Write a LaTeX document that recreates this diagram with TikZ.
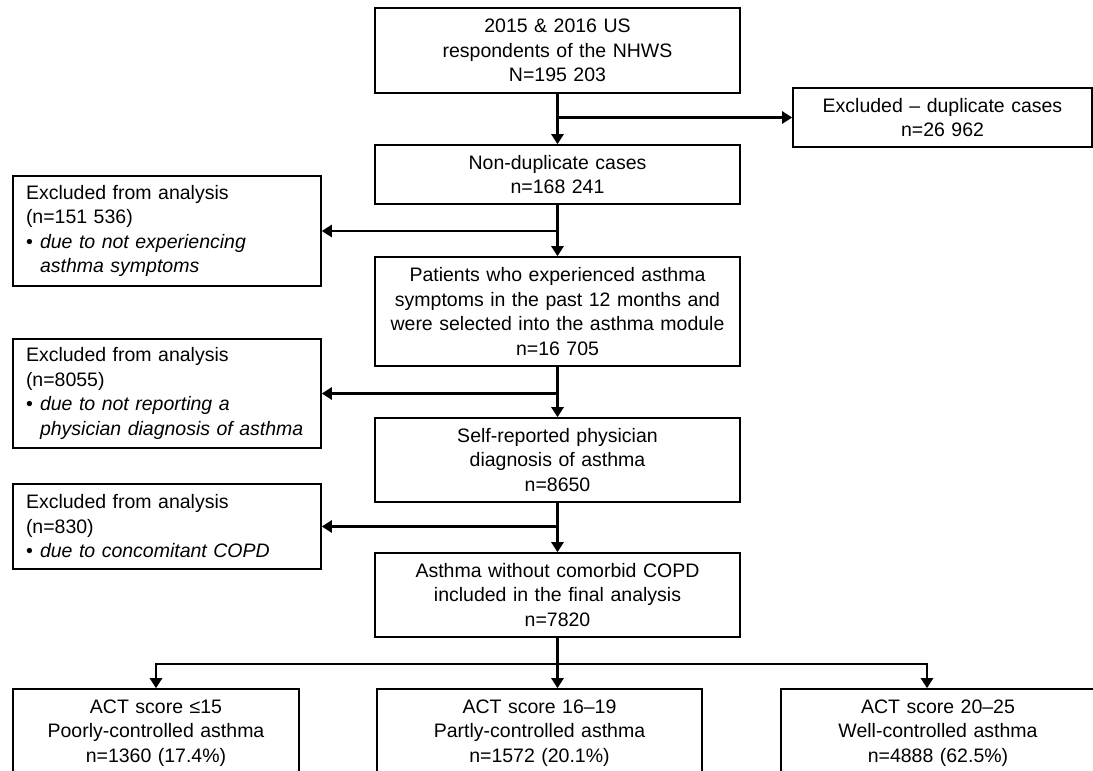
\documentclass[tikz,border=0pt]{standalone}
\usepackage{fontspec}
\setmainfont{Liberation Sans}
\usetikzlibrary{arrows.meta,positioning}

\begin{document}
\begin{tikzpicture}[x=1pt,y=-1pt,>={Triangle[length=10pt,width=12pt]},
                    box/.style={draw,line width=1.6pt,align=center,inner sep=0pt,
                                font=\fontsize{19.5}{24.5}\selectfont},
                    main/.style={box,text width=365pt},
                    excl/.style={box,align=left,inner xsep=13pt,text width=282pt},
                    flow/.style={->,line width=2.8pt}]

 \useasboundingbox (0,0) rectangle (1093,771);
 \clip (0,0) rectangle (1093,771);

 		 \node[main,minimum height=85pt]  (resp)   at (557.5,50.5)  {2015 \& 2016 US\\respondents of the NHWS\\N=195 203};
 		 \node[box,text width=299pt,minimum height=59pt] (dup) at (942.5,117.5) {Excluded -- duplicate cases\\n=26 962};
 		 \node[main,minimum height=59pt]  (nondup) at (557.5,174.5) {Non-duplicate cases\\n=168 241};
 		 \node[main,minimum height=109pt] (symp)   at (557.5,311.5) {Patients who experienced asthma\\symptoms in the past 12 months and\\were selected into the asthma module\\n=16 705};
 		 \node[main,minimum height=84pt]  (diag)   at (557.5,460)   {Self-reported physician\\diagnosis of asthma\\n=8650};
 		 \node[main,minimum height=84pt]  (final)  at (557.5,595)   {Asthma without comorbid COPD\\included in the final analysis\\n=7820};

 		 % exclusions on the left
 		 \node[excl,minimum height=110pt] (ex1) at (167,231)   {Excluded from analysis\\(n=151 536)\\\makebox[14pt][l]{\textbullet}\textit{due to not experiencing}\\\hspace*{14pt}\textit{asthma symptoms}};
 		 \node[excl,minimum height=109pt] (ex2) at (167,393.5) {Excluded from analysis\\(n=8055)\\\makebox[14pt][l]{\textbullet}\textit{due to not reporting a}\\\hspace*{14pt}\textit{physician diagnosis of asthma}};
 		 \node[excl,minimum height=85pt]  (ex3) at (167,526.5) {Excluded from analysis\\(n=830)\\\makebox[14pt][l]{\textbullet}\textit{due to concomitant COPD}};

 		 % ACT groups
 		 \node[box,text width=286pt,minimum height=88pt] (poor) at (156,733)   {ACT score ≤15\\Poorly-controlled asthma\\n=1360 (17.4\%)};
 		 \node[box,text width=325pt,minimum height=88pt] (part) at (539.5,733) {ACT score 16--19\\Partly-controlled asthma\\n=1572 (20.1\%)};
 		 \node[box,text width=314pt,minimum height=88pt] (well) at (938,733)   {ACT score 20--25\\Well-controlled asthma\\n=4888 (62.5\%)};

 		 \coordinate (split) at (557.5,664);

		\begin{scope}[flow]
		  \path (resp)   edge (nondup)
		        (nondup) edge (symp)
		        (symp)   edge (diag)
		        (diag)   edge (final)
		        (resp.south |- dup.west)   edge (dup.west)
		        (nondup.south |- ex1.east) edge (ex1.east)
		        (symp.south |- ex2.east)   edge (ex2.east)
		        (diag.south |- ex3.east)   edge (ex3.east)
		        (final.south) edge (final.south |- part.north);
		  \draw (split) -| (poor.north);
		  \draw (split) -| ([xshift=-11pt]well.north);
		\end{scope}
	\end{tikzpicture}
\end{document}
